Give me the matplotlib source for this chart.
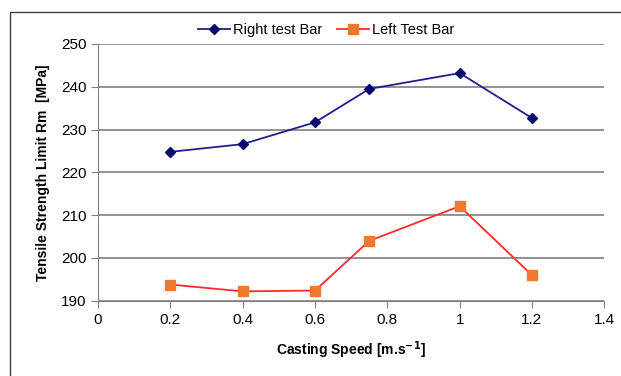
import matplotlib.pyplot as plt
from matplotlib.patches import Rectangle

plt.rcParams['font.family'] = ['Liberation Sans', 'DejaVu Sans']

speed = [0.2, 0.4, 0.6, 0.75, 1.0, 1.2]
right_bar = [224.8, 226.6, 231.7, 239.5, 243.2, 232.7]
left_bar = [193.8, 192.2, 192.4, 204.0, 212.1, 196.0]

fig = plt.figure(figsize=(6.21, 3.76), dpi=100)
ax = fig.add_axes([0.158, 0.2, 0.815, 0.683])

# outer frame
fig.patches.append(Rectangle((10 / 621, -0.1), 1.2, 1 - 12 / 376 + 0.1,
                             transform=fig.transFigure, fill=False,
                             edgecolor='#404040', linewidth=1))

ax.plot(speed, right_bar, color='#1f1f8f', marker='D', markersize=5,
        markerfacecolor='#0a0a6e', markeredgecolor='#0a0a6e', linewidth=1.3,
        label='Right test Bar')
ax.plot(speed, left_bar, color='#ff2a2a', marker='s', markersize=7,
        markerfacecolor='#f07830', markeredgecolor='#f07830', linewidth=1.3,
        label='Left Test Bar')

ax.set_xlim(0, 1.4)
ax.set_ylim(190, 250)
ax.set_xticks([0, 0.2, 0.4, 0.6, 0.8, 1, 1.2, 1.4])
ax.set_xticklabels(['0', '0.2', '0.4', '0.6', '0.8', '1', '1.2', '1.4'])
ax.set_yticks(range(190, 251, 10))
ax.yaxis.grid(True, color='#808080', linewidth=1.2)
ax.set_axisbelow(True)
for s in ['top', 'right']:
    ax.spines[s].set_visible(False)
for s in ['left', 'bottom']:
    ax.spines[s].set_color('#808080')
ax.tick_params(colors='#808080', labelcolor='black', labelsize=11, length=5)

ax.set_xlabel('Casting Speed [m.s$^{\\mathbf{-1}}$]', fontsize=10, fontweight='bold', labelpad=9)
ax.set_ylabel('Tensile Strength Limit Rm  [MPa]', fontsize=10, fontweight='bold', labelpad=8)

ax.legend(loc='lower center', bbox_to_anchor=(0.45, 1.0), ncol=2, frameon=False,
          fontsize=10.5, handlelength=2.2, columnspacing=1.0, handletextpad=0.2,
          borderaxespad=0.1)

plt.savefig('out.png', dpi=100)
